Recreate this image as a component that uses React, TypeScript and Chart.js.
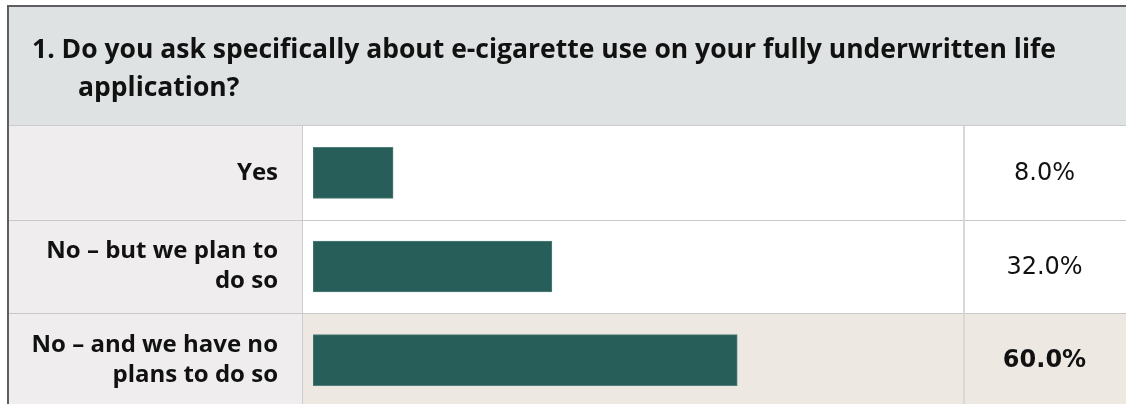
import React, { useEffect, useRef } from "react";
import { Chart, registerables } from "chart.js";

Chart.register(...registerables);

const titleLines = [
  "1. Do you ask specifically about e-cigarette use on your fully underwritten life",
  "application?",
];
const categories = [
  ["Yes"],
  ["No – but we plan to", "do so"],
  ["No – and we have no", "plans to do so"],
];
const values = [8.0, 32.0, 60.0];
const valueLabels = values.map((v) => v.toFixed(1) + "%");

const W = 1126;
const H = 407;

export default function App() {
  const ref = useRef<HTMLCanvasElement>(null);

  useEffect(() => {
    if (!ref.current) return;
    const maxVal = Math.max(...values);

    const tablePlugin = {
      id: "tableLayout",
      beforeDraw(chart: any) {
        const ctx = chart.ctx as CanvasRenderingContext2D;
        const area = chart.chartArea;
        const n = categories.length;
        const band = (area.bottom - area.top) / n;
        const labelRight = 302;
        const valueLeft = 963;
        ctx.save();
        ctx.fillStyle = "#ffffff";
        ctx.fillRect(0, 0, W, H);
        // header
        ctx.fillStyle = "#dfe2e3";
        ctx.fillRect(9, 7, W - 9, area.top - 8);
        // rows
        for (let i = 0; i < n; i++) {
          const top = area.top + i * band;
          ctx.fillStyle = "#efedee";
          ctx.fillRect(9, top, labelRight - 9, band);
          if (values[i] === maxVal) {
            ctx.fillStyle = "#ede8e2";
            ctx.fillRect(labelRight + 1, top, W - labelRight - 1, band);
          }
        }
        // header bottom line
        ctx.fillStyle = "#c9cbcc";
        ctx.fillRect(9, area.top - 1, W - 9, 1);
        // row separators
        ctx.fillStyle = "#c8c8c8";
        for (let i = 1; i < n; i++) {
          const y = Math.round(area.top + i * band);
          ctx.fillRect(9, y, W - 9, 1);
        }
        // vertical dividers
        ctx.fillStyle = "#cdcdcd";
        ctx.fillRect(labelRight, area.top, 1, H - area.top);
        ctx.fillStyle = "#d8d8d8";
        ctx.fillRect(valueLeft, area.top, 2, H - area.top);
        // outer borders
        ctx.fillStyle = "#5f5c62";
        ctx.fillRect(7, 5, W - 7, 2);
        ctx.fillRect(7, 5, 2, H - 5);
        ctx.restore();
      },
      afterDraw(chart: any) {
        const ctx = chart.ctx as CanvasRenderingContext2D;
        const yScale = chart.scales.y;
        ctx.save();
        // header text
        ctx.fillStyle = "#111111";
        ctx.font = "bold 26.5px 'Open Sans'";
        ctx.textAlign = "left";
        ctx.textBaseline = "alphabetic";
        ctx.fillText(titleLines[0], 32, 58);
        ctx.fillText(titleLines[1], 78, 96);
        // values column
        const cx = 1044.5;
        ctx.textAlign = "center";
        ctx.textBaseline = "middle";
        values.forEach((v, i) => {
          const y = yScale.getPixelForValue(i);
          ctx.font = (v === maxVal ? "bold " : "") + "24px 'DejaVu Sans'";
          ctx.fillStyle = "#111111";
          ctx.fillText(valueLabels[i], cx, y + 1);
        });
        ctx.restore();
      },
    };

    const chart = new Chart(ref.current, {
      type: "bar",
      data: {
        labels: categories,
        datasets: [
          {
            data: values,
            base: -4.1,
            backgroundColor: "#285e59",
            borderColor: "#4f7f7a",
            borderWidth: 1,
            borderSkipped: false,
            barThickness: 51,
          } as any,
        ],
      },
      options: {
        indexAxis: "y",
        responsive: false,
        maintainAspectRatio: false,
        animation: false,
        devicePixelRatio: 1,
        layout: { padding: { top: 126, right: W - 953, bottom: 0, left: 0 } },
        plugins: {
          legend: { display: false },
          tooltip: { enabled: false },
          title: { display: false },
        },
        scales: {
          x: {
            type: "linear",
            min: -4.1,
            max: 92.6,
            display: false,
          },
          y: {
            type: "category",
            grid: { display: false, drawTicks: false },
            border: { display: false },
            ticks: {
              padding: 35,
              color: "#111111",
              font: { family: "'Open Sans'", size: 24, weight: "bold", lineHeight: 1.25 },
              crossAlign: "near",
            },
            afterFit(scale: any) {
              scale.width = 313;
              scale.paddingTop = 0;
              scale.paddingBottom = 0;
            },
          },
        },
      },
      plugins: [tablePlugin],
    });
    return () => chart.destroy();
  }, []);

  return (
    <div style={{ position: "absolute", left: 0, top: 0, width: W, height: 404, overflow: "hidden" }}>
      <canvas ref={ref} width={W} height={H} style={{ display: "block" }} />
    </div>
  );
}
